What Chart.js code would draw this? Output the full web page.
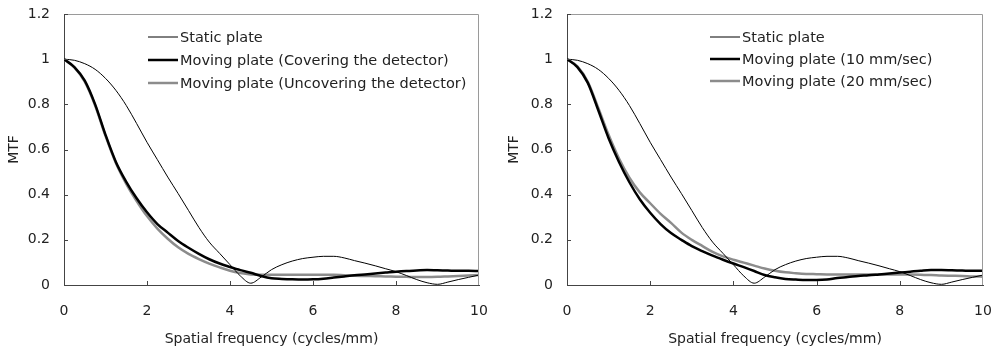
<!DOCTYPE html>
<html><head><meta charset="utf-8">
<script src="https://cdn.jsdelivr.net/npm/chart.js@4"></script>
<style>
html,body{margin:0;padding:0;background:#fff;}
#wrap{position:relative;width:995px;height:350px;overflow:hidden;}
canvas{position:absolute;top:0;}
</style></head><body>
<div id="wrap"><canvas id="c1" width="500" height="350" style="left:0px"></canvas><canvas id="c2" width="495" height="350" style="left:500px"></canvas></div>
<script>
// spatial frequency (cycles/mm)
const FREQ = [0,0.25,0.5,0.75,1,1.25,1.5,1.75,2,2.25,2.5,2.75,3,3.25,3.5,3.75,4,4.25,4.5,4.75,5,5.25,5.5,5.75,6,6.25,6.5,6.75,7,7.25,7.5,7.75,8,8.25,8.5,8.75,9,9.25,9.5,9.75,10];
// MTF values
const STATIC_PLATE = [1.000,0.995,0.980,0.955,0.915,0.862,0.795,0.715,0.632,0.555,0.478,0.405,0.330,0.255,0.190,0.140,0.090,0.040,0.008,0.035,0.068,0.090,0.106,0.117,0.123,0.127,0.127,0.120,0.108,0.097,0.085,0.072,0.059,0.042,0.024,0.010,0.003,0.013,0.024,0.034,0.044];
const COVERING = [1.000,0.965,0.905,0.800,0.665,0.545,0.457,0.384,0.322,0.270,0.232,0.195,0.165,0.138,0.114,0.095,0.080,0.066,0.054,0.040,0.030,0.027,0.025,0.024,0.025,0.028,0.033,0.038,0.043,0.047,0.051,0.055,0.059,0.062,0.064,0.066,0.065,0.064,0.063,0.063,0.062];
const UNCOVERING = [1.000,0.963,0.900,0.795,0.660,0.540,0.448,0.372,0.305,0.250,0.205,0.167,0.138,0.115,0.095,0.078,0.063,0.053,0.047,0.045,0.045,0.045,0.045,0.045,0.045,0.045,0.045,0.043,0.041,0.040,0.039,0.038,0.037,0.036,0.035,0.035,0.036,0.038,0.040,0.042,0.044];
const SPEED_10 = [1.000,0.965,0.895,0.775,0.650,0.545,0.455,0.380,0.320,0.270,0.230,0.200,0.172,0.150,0.130,0.112,0.095,0.079,0.062,0.044,0.034,0.027,0.024,0.022,0.022,0.024,0.031,0.035,0.040,0.043,0.047,0.051,0.055,0.059,0.063,0.066,0.066,0.065,0.064,0.063,0.063];
const SPEED_20 = [1.000,0.968,0.900,0.785,0.665,0.560,0.475,0.410,0.362,0.315,0.275,0.232,0.200,0.173,0.147,0.127,0.112,0.099,0.086,0.073,0.063,0.056,0.052,0.049,0.048,0.047,0.047,0.047,0.047,0.047,0.047,0.047,0.047,0.046,0.045,0.044,0.042,0.041,0.040,0.038,0.037];

const LABELS_LEFT = ['Static plate','Moving plate (Covering the detector)','Moving plate (Uncovering the detector)'];
const LABELS_RIGHT = ['Static plate','Moving plate (10 mm/sec)','Moving plate (20 mm/sec)'];
const X_TICKS = [0,2,4,6,8,10];
const Y_TICKS = [0,0.2,0.4,0.6,0.8,1,1.2];
const X_TITLE = 'Spatial frequency (cycles/mm)';
const Y_TITLE = 'MTF';

Chart.defaults.font.family = "'DejaVu Sans', sans-serif";
Chart.defaults.font.size = 14;
Chart.defaults.color = '#222';

function pts(vals){ return FREQ.map((f,i)=>({x:f,y:vals[i]})); }

const frameAndTicks = {
  id:'frameAndTicks',
  afterDatasetsDraw(chart){
    const {ctx, chartArea:a, scales:{x,y}} = chart;
    ctx.save();
    ctx.lineWidth = 1;
    ctx.strokeStyle = '#9a9a9a';
    ctx.beginPath();
    ctx.moveTo(a.left, a.top+0.5); ctx.lineTo(a.right-0.5, a.top+0.5); ctx.lineTo(a.right-0.5, a.bottom);
    ctx.stroke();
    ctx.strokeStyle = '#444';
    ctx.beginPath();
    x.ticks.forEach(t=>{ if(t.value>0 && t.value<10){ const px=Math.round(x.getPixelForValue(t.value))+0.5; ctx.moveTo(px,a.bottom); ctx.lineTo(px,a.bottom-4);} });
    y.ticks.forEach(t=>{ if(t.value>0){ const py=Math.round(y.getPixelForValue(t.value))+0.5; ctx.moveTo(a.left,py); ctx.lineTo(a.left+4,py);} });
    ctx.stroke();
    ctx.restore();
  }
};

const innerLegend = {
  id:'innerLegend',
  afterDatasetsDraw(chart, args, opts){
    const ctx = chart.ctx;
    ctx.save();
    ctx.font = "14.5px 'DejaVu Sans', sans-serif";
    ctx.textBaseline = 'middle';
    ctx.fillStyle = '#222';
    chart.data.datasets.forEach((ds,i)=>{
      const yy = opts.y + i*opts.gap;
      ctx.strokeStyle = ds.borderColor; ctx.lineWidth = ds.borderWidth;
      ctx.beginPath(); ctx.moveTo(opts.x, yy); ctx.lineTo(opts.x+30, yy); ctx.stroke();
      ctx.fillText(ds.label, opts.x+32, yy+1);
    });
    ctx.restore();
  }
};

function fmt(v){ return String(Math.round(v*10)/10); }

function make(id, labels, series, area, legend){
  const styles = [
    {borderColor:'#000', borderWidth:1},
    {borderColor:'#000', borderWidth:2.5},
    {borderColor:'#8c8c8c', borderWidth:2.5}
  ];
  new Chart(document.getElementById(id), {
    type:'line',
    data:{datasets: series.map((s,i)=>({label:labels[i], data:pts(s), borderColor:styles[i].borderColor, borderWidth:styles[i].borderWidth, pointRadius:0, tension:0, cubicInterpolationMode:'monotone', fill:false}))},
    options:{
      responsive:false, animation:false, events:[],
      layout:{padding:{top:area.top, right:area.right, left:0, bottom:0}},
      plugins:{legend:{display:false}, tooltip:{enabled:false}, innerLegend:legend},
      scales:{
        x:{type:'linear', min:0, max:10,
          afterBuildTicks(s){ s.ticks = X_TICKS.map(v=>({value:v})); },
          afterFit(s){ s.height = area.xh; s.paddingLeft = 0; s.paddingRight = 0; },
          grid:{display:true, drawOnChartArea:false, drawTicks:false},
          border:{display:true, color:'#444', width:1},
          ticks:{padding:18, maxRotation:0, color:'#222', callback:(v)=>fmt(v)},
          title:{display:true, text:X_TITLE, color:'#222', padding:{top:0,bottom:2}}
        },
        y:{type:'linear', min:0, max:1.2,
          afterBuildTicks(s){ s.ticks = Y_TICKS.map(v=>({value:v})); },
          afterFit(s){ s.width = area.yw; s.paddingTop = 0; s.paddingBottom = 0; },
          grid:{display:true, drawOnChartArea:false, drawTicks:false},
          border:{display:true, color:'#444', width:1},
          ticks:{padding:14, color:'#222', callback:(v)=>fmt(v)},
          title:{display:true, text:Y_TITLE, color:'#222', padding:{top:6,bottom:0}}
        }
      }
    },
    plugins:[frameAndTicks, innerLegend]
  });
}

make('c1', LABELS_LEFT, [STATIC_PLATE, COVERING, UNCOVERING], {top:14, right:21, xh:65, yw:64}, {x:148, y:37, gap:23});
make('c2', LABELS_RIGHT, [STATIC_PLATE, SPEED_10, SPEED_20], {top:14, right:12, xh:65, yw:67}, {x:210, y:37, gap:22});
</script>
</body></html>
